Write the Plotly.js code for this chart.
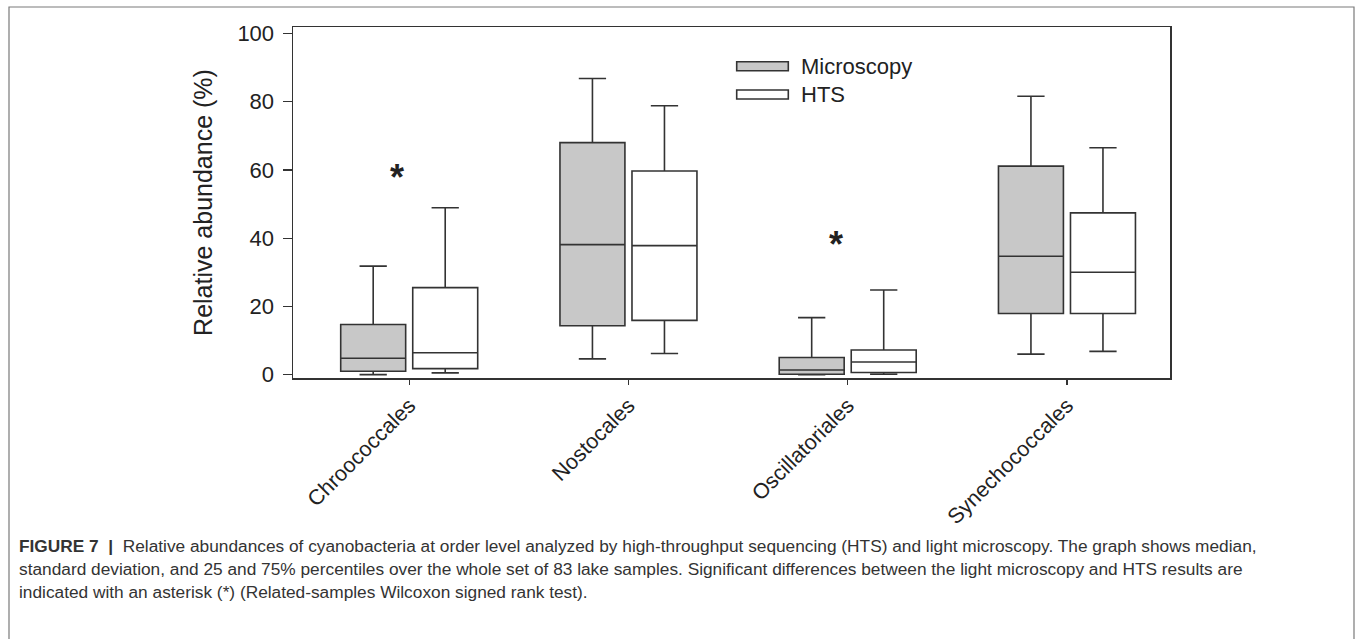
<!DOCTYPE html>
<html>
<head>
<meta charset="utf-8">
<script src="https://cdn.plot.ly/plotly-3.0.1.min.js"></script>
<style>
  html, body { margin: 0; padding: 0; background: #fff; overflow: hidden; }
  #chart { width: 1357px; height: 639px; }
</style>
</head>
<body>
<div id="chart"></div>
<script>
// ---- data ----
const categories = ['Chroococcales', 'Nostocales', 'Oscillatoriales', 'Synechococcales'];

const microLower  = [0.0, 4.6, 0.0, 6.0];
const microQ1     = [1.0, 14.3, 0.1, 17.9];
const microMedian = [4.8, 38.1, 1.35, 34.7];
const microQ3     = [14.7, 68.0, 5.0, 61.1];
const microUpper  = [31.8, 86.8, 16.7, 81.6];

const htsLower  = [0.5, 6.2, 0.1, 6.8];
const htsQ1     = [1.75, 15.9, 0.6, 17.9];
const htsMedian = [6.4, 37.8, 3.7, 30.0];
const htsQ3     = [25.5, 59.7, 7.2, 47.4];
const htsUpper  = [48.9, 78.8, 24.8, 66.5];

const sigCategories = ['Chroococcales', 'Oscillatoriales'];
const sigY = [57.7, 38.1];

const seriesNames = ['Microscopy', 'HTS'];
const yTicks = [0, 20, 40, 60, 80, 100];

const captionLines = [
  '<b>FIGURE 7  |</b>  Relative abundances of cyanobacteria at order level analyzed by high-throughput sequencing (HTS) and light microscopy. The graph shows median,',
  'standard deviation, and 25 and 75% percentiles over the whole set of 83 lake samples. Significant differences between the light microscopy and HTS results are',
  'indicated with an asterisk (*) (Related-samples Wilcoxon signed rank test).'
];

// ---- layout geometry (pixels) ----
const W = 1357, H = 639;
const PL = 293, PR = 1170, PT = 27, PB = 378;
const pw = PR - PL, ph = PB - PT;
const px = x => (x - PL) / pw;
const py = y => (PB - y) / ph;

const LINE = '#333333';
const TXT = '#222222';
const FONT = 'Liberation Sans, Arial, Helvetica, sans-serif';

function boxTrace(name, lo, q1, med, q3, hi, fill) {
  return {
    type: 'box',
    name: name,
    x: categories,
    lowerfence: lo, q1: q1, median: med, q3: q3, upperfence: hi,
    boxpoints: false,
    fillcolor: fill,
    line: { color: LINE, width: 1.6 },
    whiskerwidth: 0.42,
    showlegend: false,
    hoverinfo: 'skip'
  };
}

const data = [
  boxTrace(seriesNames[0], microLower, microQ1, microMedian, microQ3, microUpper, '#c8c8c8'),
  boxTrace(seriesNames[1], htsLower, htsQ1, htsMedian, htsQ3, htsUpper, '#ffffff')
];

const annotations = [];
sigCategories.forEach((c, i) => {
  annotations.push({
    x: c, y: sigY[i], xref: 'x', yref: 'y', text: '<b>*</b>', showarrow: false,
    xshift: -12, font: { family: FONT, size: 36, color: TXT }
  });
});

// legend (custom)
const legendRows = [
  { name: seriesNames[0], fill: '#c8c8c8', top: 61.7, bot: 70.7, cy: 66.5 },
  { name: seriesNames[1], fill: '#ffffff', top: 90, bot: 99, cy: 94.5 }
];
const shapes = [];
legendRows.forEach(r => {
  shapes.push({
    type: 'rect', xref: 'paper', yref: 'paper',
    x0: px(736.7), x1: px(788.3), y0: py(r.bot), y1: py(r.top),
    fillcolor: r.fill, line: { color: LINE, width: 1.6 }
  });
  annotations.push({
    xref: 'paper', yref: 'paper', x: px(799), y: py(r.cy),
    xanchor: 'left', yanchor: 'middle', showarrow: false,
    text: r.name, font: { family: FONT, size: 22, color: TXT }
  });
});

// outer figure frame
shapes.push({
  type: 'rect', xref: 'paper', yref: 'paper',
  x0: px(9), x1: px(1354), y0: py(760), y1: py(7),
  line: { color: '#7a7a7a', width: 1.2 }, fillcolor: 'rgba(0,0,0,0)', layer: 'below'
});

// caption
const capY = [546, 569, 592];
captionLines.forEach((t, i) => {
  annotations.push({
    xref: 'paper', yref: 'paper', x: px(17), y: py(capY[i]),
    xanchor: 'left', yanchor: 'middle', showarrow: false, align: 'left',
    text: t, font: { family: FONT, size: 17.3, color: '#333333' }
  });
});

const layout = {
  width: W, height: H,
  margin: { l: PL, r: W - PR, t: PT, b: H - PB, pad: 0 },
  paper_bgcolor: '#ffffff', plot_bgcolor: '#ffffff',
  boxmode: 'group', boxgap: 0.343, boxgroupgap: 0.098,
  showlegend: false,
  font: { family: FONT, color: TXT },
  xaxis: {
    type: 'category', categoryarray: categories, categoryorder: 'array',
    range: [-0.53, 3.47],
    showline: true, mirror: true, linecolor: LINE, linewidth: 1.5,
    ticks: 'outside', ticklen: 5, tickwidth: 1.2, tickcolor: LINE,
    tickangle: -45, tickfont: { family: FONT, size: 21.5, color: TXT },
    showgrid: false, zeroline: false
  },
  yaxis: {
    range: [-1.0, 101.9],
    tickvals: yTicks, ticktext: yTicks.map(String),
    showline: true, mirror: true, linecolor: LINE, linewidth: 1.5,
    ticks: 'outside', ticklen: 9, tickwidth: 1.2, tickcolor: LINE,
    ticklabelstandoff: 4,
    tickfont: { family: FONT, size: 22, color: TXT },
    showgrid: false, zeroline: false,
    title: { text: 'Relative abundance (%)', font: { family: FONT, size: 25, color: TXT }, standoff: 17 }
  },
  annotations: annotations,
  shapes: shapes
};

Plotly.newPlot('chart', data, layout, { displayModeBar: false, staticPlot: true });
</script>
</body>
</html>
